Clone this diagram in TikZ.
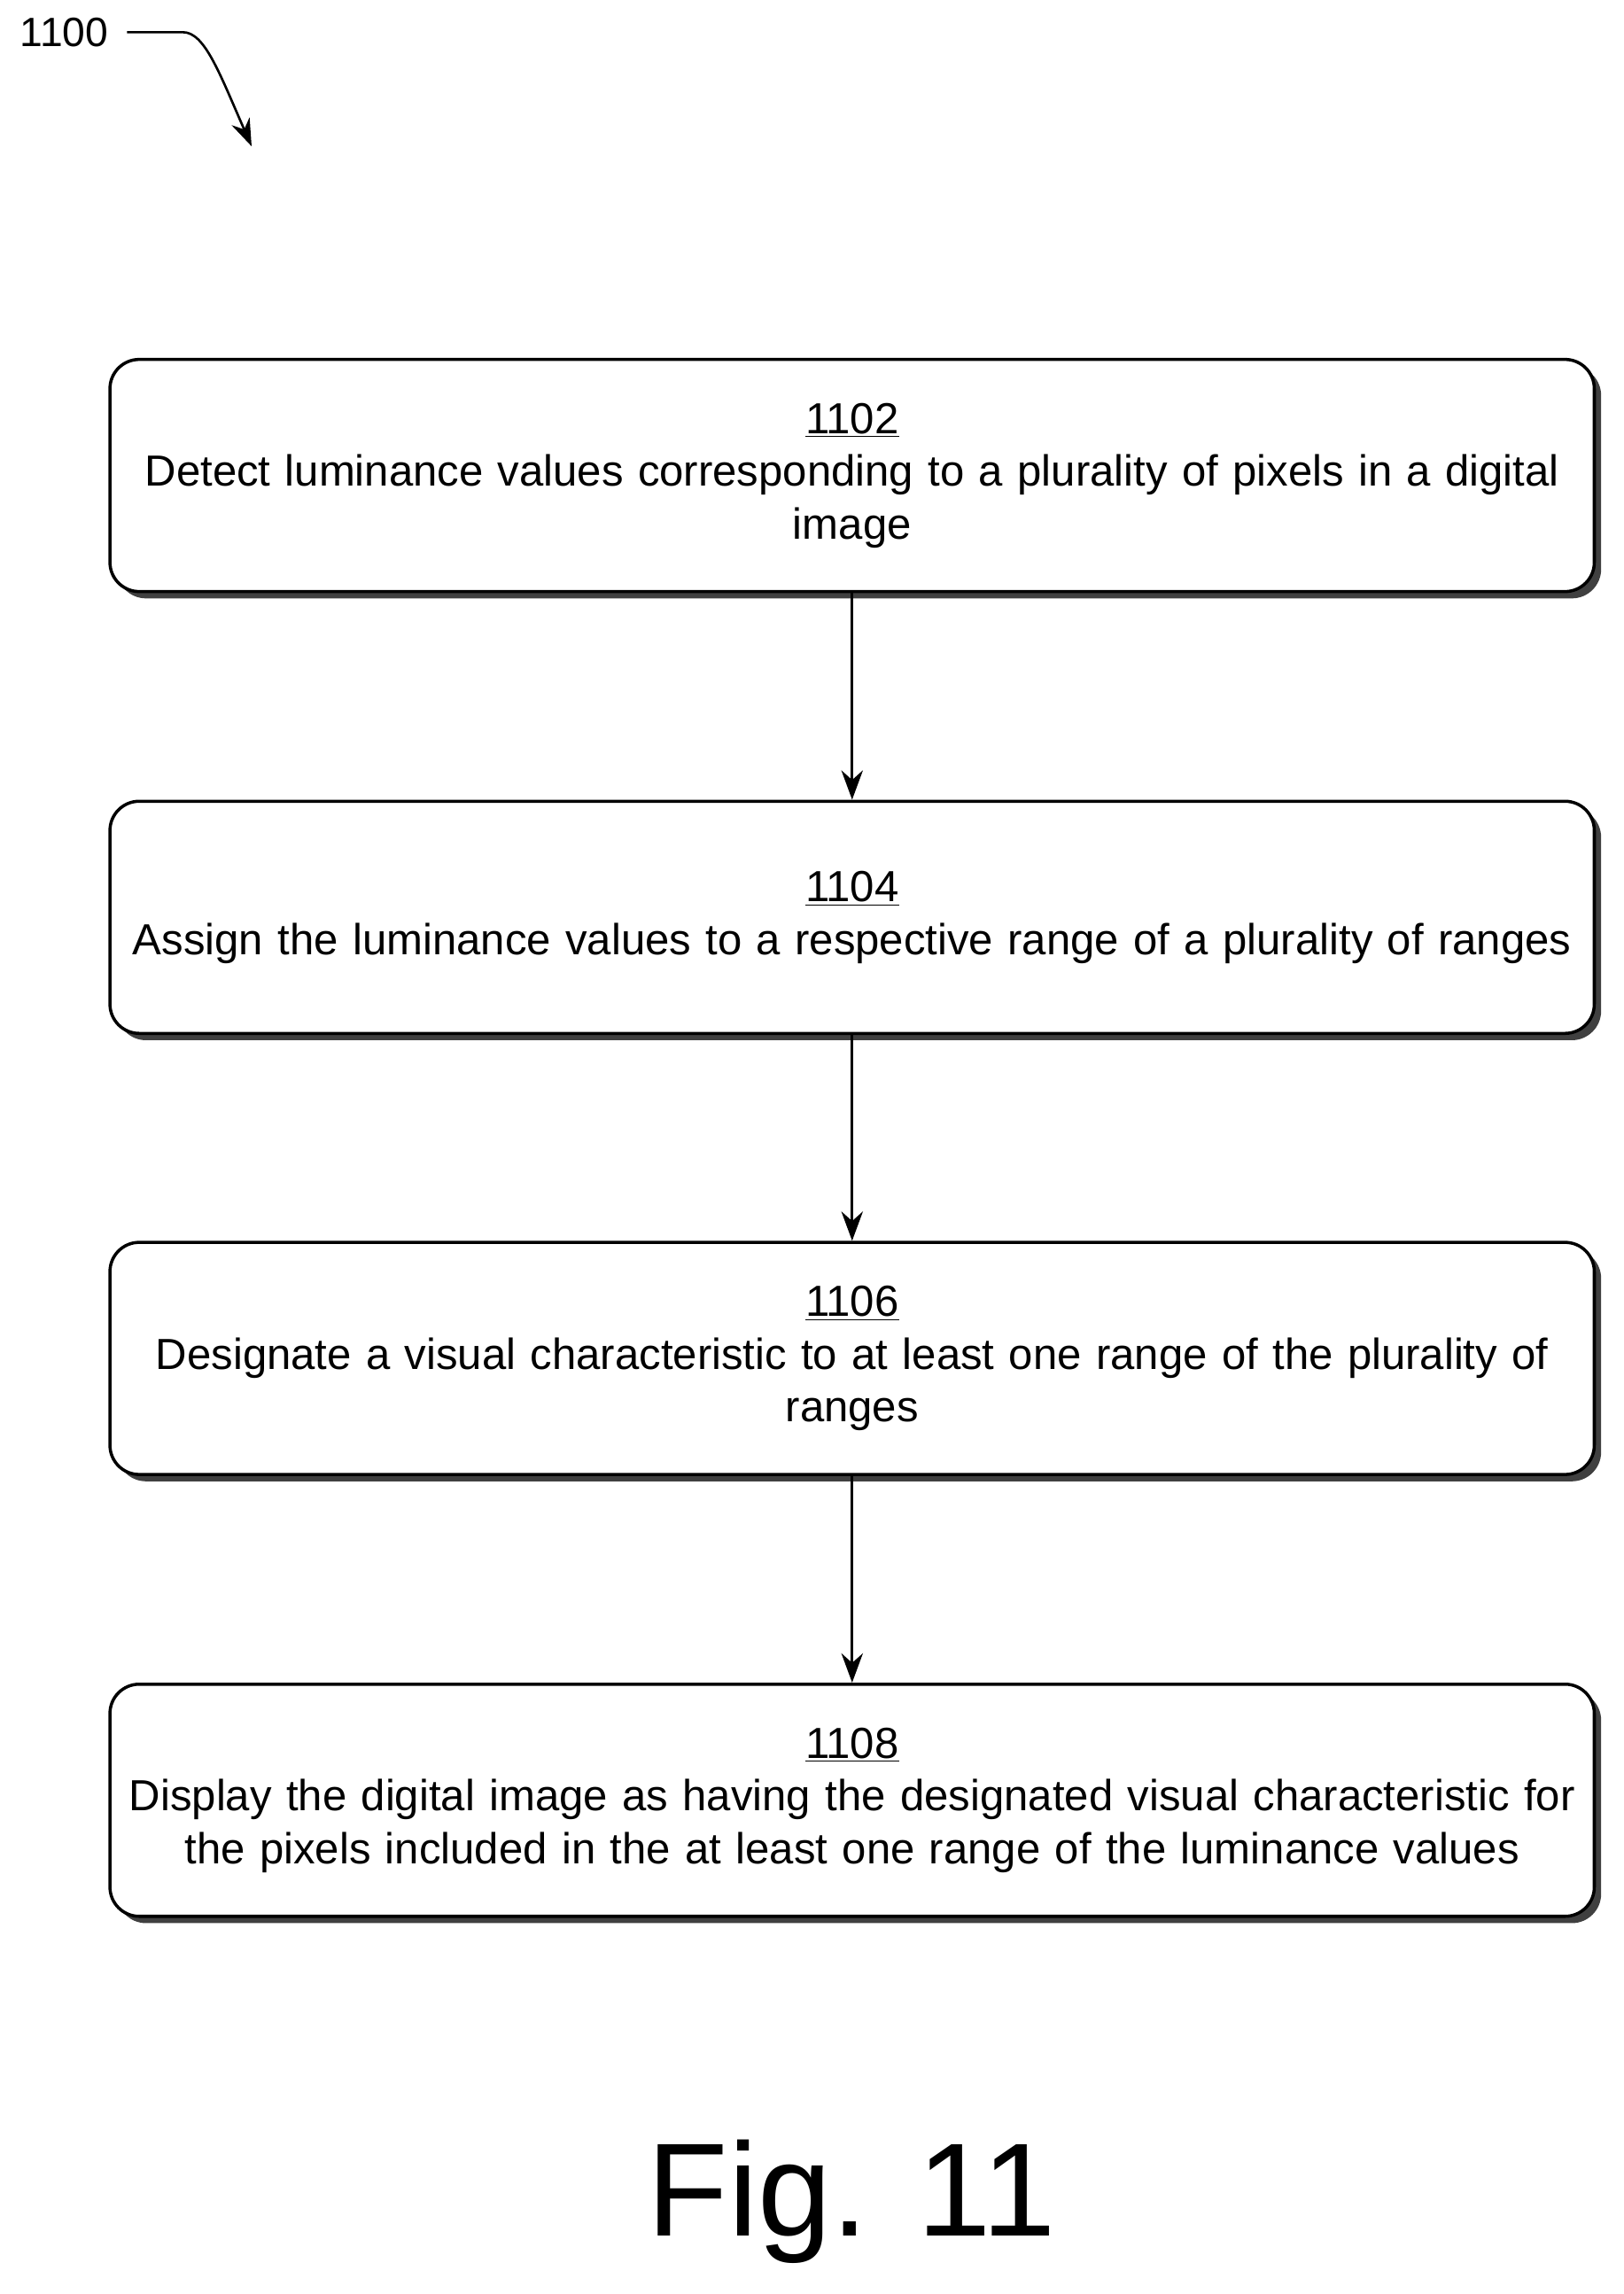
\documentclass[tikz,border=0pt]{standalone}
\usepackage{fontspec}
\setmainfont{Liberation Sans}
\usetikzlibrary{arrows.meta,shadows}

\begin{document}
\begin{tikzpicture}[x=0.75pt,y=0.75pt,yscale=-1,xscale=1,
  stepbox/.style={draw=black,line width=1.6pt,rounded corners=15pt,fill=white,
    minimum width=761pt,minimum height=119pt,text width=760pt,inner xsep=0pt,align=center,
    font=\fontsize{22.3}{27}\selectfont,
    drop shadow={shadow xshift=3.5pt,shadow yshift=-3.5pt,fill=black!75,opacity=1}},
  flow/.style={line width=1.5pt,-{Stealth[length=15pt,width=11pt]}}]
\useasboundingbox (0,0) rectangle (1110,1568);

% Reference label
\node (lbl) at (44,22) {\fontsize{21}{24}\selectfont 1100};
\coordinate (tip) at (172,100);
\draw [line width=1.2pt,-{Stealth[length=14pt,width=10pt]}] (lbl.east)++(8,0) -- (125,22) .. controls (140,22) and (150,50) .. (tip);

% Steps
\node [stepbox] (s1) at (582.5,325) {\underline{1102}\\Detect luminance values corresponding to a plurality of pixels in a digital\\image};
\node [stepbox] (s2) at (582.5,627) {\underline{1104}\\Assign the luminance values to a respective range of a plurality of ranges};
\node [stepbox] (s3) at (582.5,928.5) {\underline{1106}\\Designate a visual characteristic to at least one range of the plurality of\\ranges};
\node [stepbox] (s4) at (582.5,1230.5) {\underline{1108}\\Display the digital image as having the designated visual characteristic for\\the pixels included in the at least one range of the luminance values};

% Connectors
\draw [flow] (s1) -- (s2);
\draw [flow] (s2) -- (s3);
\draw [flow] (s3) -- (s4);

% Caption
\node (fig) at (582,1505) {\fontsize{68}{72}\selectfont Fig. 11};

\end{tikzpicture}
\end{document}
